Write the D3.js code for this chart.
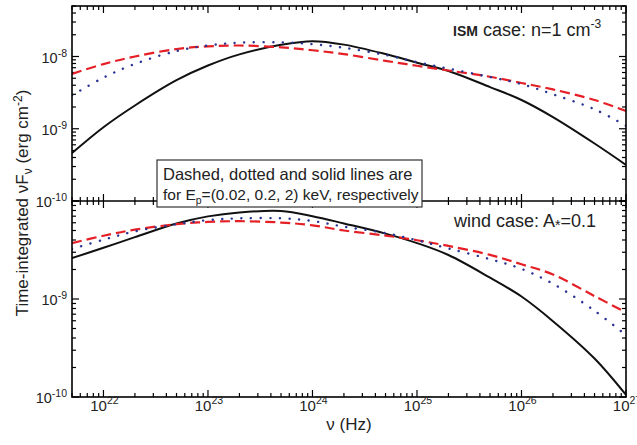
<!DOCTYPE html>
<html><head><meta charset="utf-8">
<script src="https://cdn.jsdelivr.net/npm/d3@7"></script>
<style>
html,body{margin:0;padding:0;background:#fff;}
svg{display:block;font-family:"Liberation Sans",Arial,sans-serif;}
</style></head>
<body><svg id="c" width="637" height="445"></svg>
<script>
// frequency grid (Hz)
const nu = [5e21,1e22,2e22,5e22,1e23,2e23,5e23,1e24,2e24,5e24,1e25,2e25,5e25,1e26,2e26,5e26,1e27];
// ISM case, n = 1 cm^-3
const ismDashed = [5.75e-9,7.85e-9,1.0e-8,1.27e-8,1.38e-8,1.42e-8,1.34e-8,1.22e-8,1.08e-8,8.7e-9,7.45e-9,6.4e-9,5.24e-9,4.3e-9,3.5e-9,2.5e-9,1.76e-9];
const ismDotted = [2.9e-9,5.1e-9,7.9e-9,1.19e-8,1.42e-8,1.55e-8,1.57e-8,1.48e-8,1.32e-8,1.05e-8,8.35e-9,6.8e-9,5.2e-9,4.15e-9,3.0e-9,1.86e-9,1.1e-9];
const ismSolid  = [4.6e-10,1.05e-9,2.1e-9,4.7e-9,7.5e-9,1.07e-8,1.45e-8,1.63e-8,1.46e-8,1.08e-8,8.2e-9,6.3e-9,3.77e-9,2.5e-9,1.45e-9,6.25e-10,3.16e-10];
// wind case, A* = 0.1
const windDashed = [3.72e-9,4.42e-9,5.1e-9,5.8e-9,6.12e-9,6.22e-9,6.03e-9,5.65e-9,5.0e-9,4.44e-9,3.98e-9,3.48e-9,2.82e-9,2.26e-9,1.78e-9,1.07e-9,7.3e-10];
const windDotted = [3.24e-9,4.03e-9,4.9e-9,5.8e-9,6.38e-9,6.65e-9,6.65e-9,6.25e-9,5.47e-9,4.7e-9,3.98e-9,3.28e-9,2.55e-9,2.03e-9,1.43e-9,7.6e-10,4.27e-10];
const windSolid  = [2.61e-9,3.33e-9,4.28e-9,5.9e-9,6.97e-9,7.64e-9,7.9e-9,7.0e-9,5.9e-9,4.65e-9,3.72e-9,2.81e-9,1.65e-9,1.06e-9,5.94e-10,2.47e-10,1.05e-10];
// tick labels
const xTickExp = [22,23,24,25,26,27];
const yTopExp = [-10,-9,-8];
const yBotExp = [-10,-9];

const svg = d3.select("#c");
const L=72, R=626, T=6, M=201, B=397;
const x = d3.scaleLog().domain([5e21,1e27]).range([L,R]);
const yTop = d3.scaleLog().domain([1e-10,5e-8]).range([M,T]);
const yBot = d3.scaleLog().domain([1e-10,1e-8]).range([B,M]);

const xMinor = x.ticks().filter(v=>v>=5e21&&v<=1e27);
function isMajor(v){const l=Math.log10(v);return Math.abs(l-Math.round(l))<1e-9;}

const g = svg.append("g");
const axW = 1.6;
function xTicks(yPos, dir){
  g.append("g").selectAll("line").data(xMinor).join("line")
   .attr("x1",d=>x(d)).attr("x2",d=>x(d))
   .attr("y1",yPos).attr("y2",d=>yPos+dir*(isMajor(d)?7:4))
   .attr("stroke","#000").attr("stroke-width",1.2);
}
function yTicks(scale, xPos, dir){
  const t = scale.ticks().filter(v=>v>=scale.domain()[0]*0.999&&v<=scale.domain()[1]*1.001);
  g.append("g").selectAll("line").data(t).join("line")
   .attr("y1",d=>scale(d)).attr("y2",d=>scale(d))
   .attr("x1",xPos).attr("x2",d=>xPos+dir*(isMajor(d)?7:4))
   .attr("stroke","#000").attr("stroke-width",1.2);
}
xTicks(T,1); xTicks(M,-1); xTicks(M,1); xTicks(B,-1);
yTicks(yTop,L,1); yTicks(yTop,R,-1); yTicks(yBot,L,1); yTicks(yBot,R,-1);

svg.append("clipPath").attr("id","ct").append("rect").attr("x",L).attr("y",T).attr("width",R-L).attr("height",M-T);
svg.append("clipPath").attr("id","cb").append("rect").attr("x",L).attr("y",M).attr("width",R-L).attr("height",B-M);
const gTop = g.append("g").attr("clip-path","url(#ct)");
const gBot = g.append("g").attr("clip-path","url(#cb)");
function drawIn(container, scale, vals, style){
  const data = nu.map((n,i)=>[n,vals[i]]);
  const line = d3.line().x(d=>x(d[0])).y(d=>scale(d[1])).curve(d3.curveCatmullRom.alpha(0.5));
  const p = container.append("path").datum(data).attr("d",line).attr("fill","none");
  if(style==="dashed") p.attr("stroke","#e41f26").attr("stroke-width",2.2).attr("stroke-dasharray","10,5");
  else if(style==="dotted") p.attr("stroke","#2a3391").attr("stroke-width",2.4).attr("stroke-dasharray","0.1,9.5").attr("stroke-linecap","round");
  else p.attr("stroke","#111").attr("stroke-width",2);
}
drawIn(gTop,yTop,ismSolid,"solid");
drawIn(gTop,yTop,ismDashed,"dashed");
drawIn(gTop,yTop,ismDotted,"dotted");
drawIn(gBot,yBot,windSolid,"solid");
drawIn(gBot,yBot,windDashed,"dashed");
drawIn(gBot,yBot,windDotted,"dotted");

// frames
g.append("rect").attr("x",L).attr("y",T).attr("width",R-L).attr("height",B-T)
 .attr("fill","none").attr("stroke","#000").attr("stroke-width",axW);
g.append("line").attr("x1",L).attr("x2",R).attr("y1",M).attr("y2",M).attr("stroke","#000").attr("stroke-width",axW);

// note box
svg.append("rect").attr("x",157).attr("y",160).attr("width",265).attr("height",47)
 .attr("fill","#fff").attr("stroke","#333").attr("stroke-width",1.2);

// labels
const lab = svg.append("g").attr("fill","#222");
xTickExp.forEach(e=>{
  const t = lab.append("text").attr("x",x(Math.pow(10,e))+1).attr("y",411).attr("text-anchor","middle").attr("font-size",15);
  t.append("tspan").text("10");
  t.append("tspan").attr("dy",-7).attr("font-size",10.5).text(e);
});
function yLabels(scale, exps){
  exps.forEach(e=>{
    const t = lab.append("text").attr("x",67).attr("y",scale(Math.pow(10,e))+6).attr("text-anchor","end").attr("font-size",14.5);
    t.append("tspan").text("10");
    t.append("tspan").attr("dy",-6).attr("font-size",10.5).text(e);
  });
}
yLabels(yTop, yTopExp);
yLabels(yBot, yBotExp);

lab.append("text").attr("x",(L+R)/2).attr("y",430).attr("text-anchor","middle").attr("font-size",17).text("ν (Hz)");
const yt = lab.append("text").attr("transform","translate(28,203) rotate(-90)").attr("text-anchor","middle").attr("font-size",17);
yt.append("tspan").text("Time-integrated νF");
yt.append("tspan").attr("dy",4).attr("font-size",12).text("ν");
yt.append("tspan").attr("dy",-4).text(" (erg cm");
yt.append("tspan").attr("dy",-6).attr("font-size",12).text("-2");
yt.append("tspan").attr("dy",6).text(")");

const a1 = lab.append("text").attr("x",453).attr("y",36).attr("font-size",18);
a1.append("tspan").attr("font-weight","bold").attr("font-size",14).text("ISM");
a1.append("tspan").text(" case: n=1 cm");
a1.append("tspan").attr("dy",-8).attr("font-size",12).text("-3");
const a2 = lab.append("text").attr("x",454).attr("y",227).attr("font-size",18);
a2.append("tspan").text("wind case: A");
a2.append("tspan").attr("dy",3).attr("font-size",14).text("*");
a2.append("tspan").attr("dy",-3).text("=0.1");

lab.append("text").attr("x",163).attr("y",180).attr("font-size",16.5).text("Dashed, dotted and solid lines are");
const n2 = lab.append("text").attr("x",163).attr("y",200).attr("font-size",15.5);
n2.append("tspan").text("for E");
n2.append("tspan").attr("dy",4).attr("font-size",10.5).text("p");
n2.append("tspan").attr("dy",-4).text("=(0.02, 0.2, 2) keV, respectively");
</script></body></html>
